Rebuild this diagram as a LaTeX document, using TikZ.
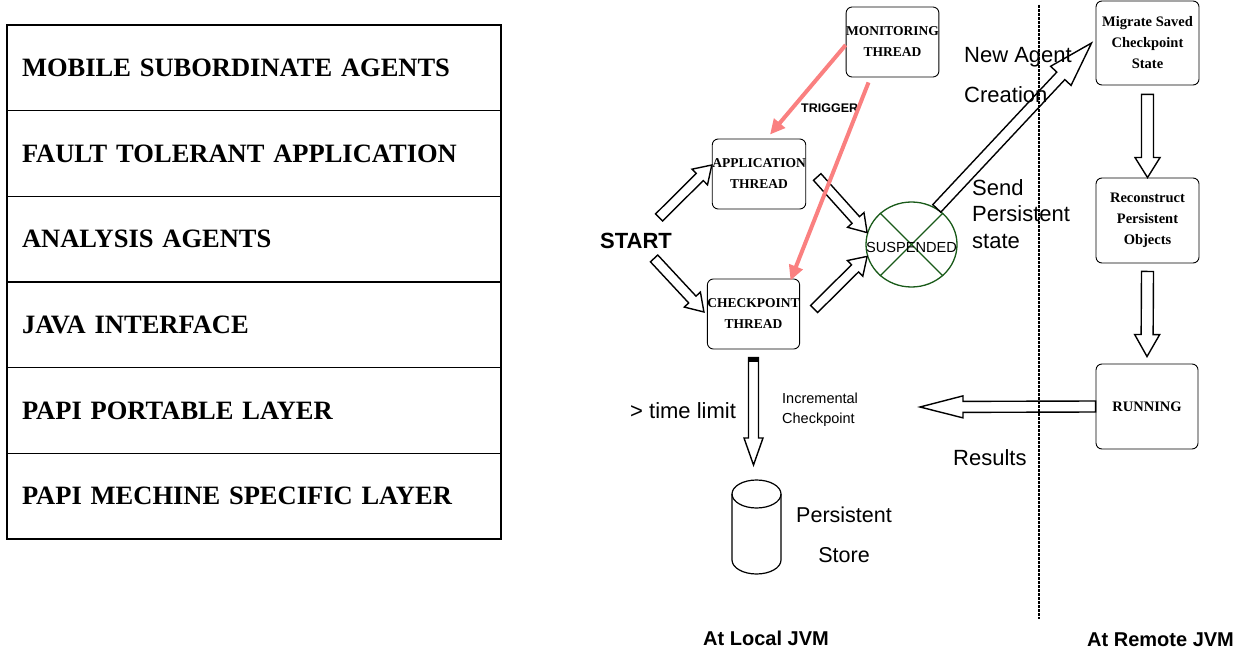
\documentclass[tikz,border=0pt]{standalone}
\usepackage{fontspec}
\setmainfont{Liberation Serif}
\newfontfamily\arial{Liberation Sans}
\usetikzlibrary{arrows.meta,calc,positioning,shapes.geometric}

\definecolor{triggerpink}{RGB}{250,128,128}
\definecolor{suspgreen}{RGB}{25,90,25}

\tikzset{
  layer/.style={draw, line width=1.3pt, minimum height=85.67pt, inner xsep=15pt, outer sep=0pt,
    text width=464pt, align=left, font=\fontsize{26.5}{30}\selectfont\bfseries},
  thread/.style={draw, rounded corners=6pt, line width=0.9pt, inner sep=0pt, align=center,
    font=\fontsize{13.5}{21}\selectfont\bfseries},
  remote/.style={thread, minimum width=103pt, minimum height=85pt, font=\fontsize{14.5}{21}\selectfont\bfseries},
  lbl/.style={inner sep=0pt, font=\arial\fontsize{22}{26}\selectfont},
  trigger/.style={triggerpink, line width=4pt, -{Triangle[length=15pt,width=14pt]}},
  blockline/.style={draw, line width=1.4pt, fill=white, line join=miter},
}

% hollow block arrow: tail, tip, half shaft, half head, head length
\newcommand{\blockarrow}[5]{%
  \path (#1) coordinate (ba-a) (#2) coordinate (ba-b);
  \path ($(ba-b)!#5!(ba-a)$) coordinate (ba-h);
  \draw[blockline] ($(ba-a)!#3!90:(ba-b)$) -- ($(ba-h)!#3!-90:(ba-a)$) -- ($(ba-h)!#4!-90:(ba-a)$)
    -- (ba-b) -- ($(ba-h)!#4!90:(ba-a)$) -- ($(ba-h)!#3!90:(ba-a)$) -- ($(ba-a)!#3!-90:(ba-b)$) -- cycle;
}

\begin{document}
\begin{tikzpicture}[x=1pt,y=1pt]
  \useasboundingbox (0,0) rectangle (1238,-652);

  % layers
  \node[layer, anchor=north west] (msa) at (7,-25) {MOBILE SUBORDINATE AGENTS};
  \node[layer, below=0pt of msa] (fta) {FAULT TOLERANT APPLICATION};
  \node[layer, below=0pt of fta] (ana) {ANALYSIS AGENTS};
  \node[layer, below=0pt of ana] (jif) {JAVA INTERFACE};
  \node[layer, below=0pt of jif] (ppl) {PAPI PORTABLE LAYER};
  \node[layer, below=0pt of ppl] (pms) {PAPI MECHINE SPECIFIC LAYER};

  % local JVM
  \node[thread, minimum width=91pt, minimum height=70pt] (mon) at (892.5,-42) {MONITORING\\THREAD};
  \node[thread, minimum width=90pt, minimum height=70pt] (app) at (759,-174) {APPLICATION\\THREAD};
  \node[thread, minimum width=91pt, minimum height=70pt] (chk) at (753.5,-314) {CHECKPOINT\\THREAD};
  \node[ellipse, draw=suspgreen, line width=1.3pt, minimum width=91pt, minimum height=85pt, inner sep=0pt] (susp) at (911.5,-244.5) {};
  \draw[suspgreen, line width=1.3pt] (susp.135) -- (susp.-45) (susp.45) -- (susp.-135);
  \node[lbl, font=\arial\fontsize{14.6}{17}\selectfont] (susptext) at (911.5,-247) {SUSPENDED};

  \node[lbl, font=\arial\bfseries\fontsize{22}{26}\selectfont, anchor=base west] (start) at (600,-248) {START};
  \node[lbl, font=\arial\bfseries\fontsize{12.5}{15}\selectfont, anchor=base west] (trig) at (801,-113) {TRIGGER};
  \node[lbl, anchor=base west] (timelimit) at (630,-418) {> time limit};
  \node[lbl, font=\arial\fontsize{14.5}{20}\selectfont, anchor=base west, align=left] (incr) at (782,-423) {Incremental\\Checkpoint};
  \node[lbl, anchor=base west] (results) at (953,-465) {Results};
  \node[lbl, font=\arial\fontsize{21.5}{40}\selectfont, anchor=base, align=center] (storelbl) at (844,-562) {Persistent\\Store};

  % persistent store
  \draw[line width=1.2pt] (732,-494) -- (732,-560) arc[start angle=180, end angle=360, x radius=24.5, y radius=14] -- (781,-494);
  \draw[line width=1.2pt] (756.5,-494) ellipse [x radius=24.5, y radius=14];
  \coordinate (store) at (756.5,-480);

  % remote JVM
  \node[remote, minimum height=84pt] (mig) at (1147.5,-43) {Migrate Saved\\Checkpoint\\State};
  \node[remote] (rec) at (1147.5,-220.5) {Reconstruct\\Persistent\\Objects};
  \node[remote, minimum width=102pt] (run) at (1147,-406.5) {RUNNING};
  \coordinate (resultsend) at (920,-407);

  \node[lbl, font=\arial\bfseries\fontsize{20}{24}\selectfont, anchor=base west] (localjvm) at (703,-645) {At Local JVM};
  \node[lbl, font=\arial\bfseries\fontsize{20}{24}\selectfont, anchor=base west] (remotejvm) at (1087,-646) {At Remote JVM};

  % block arrows
  \blockarrow{[shift={(-13,15)}]start.north east}{[yshift=9]app.west}{5pt}{11pt}{17pt}
  \blockarrow{[shift={(-18,-10)}]start.south east}{[shift={(-3,2)}]chk.west}{5pt}{11pt}{17pt}
  \blockarrow{[shift={(11,-3)}]app.east}{susp.165}{5pt}{11pt}{17pt}
  \blockarrow{[shift={(14,5)}]chk.east}{susp.195}{5pt}{11pt}{17pt}
  \blockarrow{susp.55}{[xshift=-4]mig.west}{5.5pt}{14pt}{45pt}
  \blockarrow{[yshift=-8]chk.south}{[shift={(-3,15)}]store}{5pt}{9.5pt}{27pt}
  \fill ($(chk.south)+(-5,-8)$) rectangle ($(chk.south)+(5,-13)$);
  \blockarrow{[yshift=-9]mig.south}{rec.north}{6pt}{12.5pt}{20pt}
  \blockarrow{[yshift=-8]rec.south}{[yshift=7]run.north}{6pt}{12.5pt}{22pt}
  \blockarrow{run.west}{resultsend}{5.5pt}{11pt}{43pt}

  % labels over the migration arrow
  \node[lbl, font=\arial\fontsize{22}{40}\selectfont, anchor=base west, align=left] (newagent) at (964,-103) {New Agent\\Creation};
  \node[lbl, font=\arial\fontsize{22}{26.5}\selectfont, anchor=base west, align=left] (send) at (972,-248) {Send\\Persistent\\state};

  % trigger arrows
  \draw[trigger] ([yshift=-3]mon.west) -- ([shift={(11,4)}]app.north);
  \draw[trigger] ([shift={(-24,-5)}]mon.south) -- ([shift={(37,-2)}]chk.north);

  % JVM border
  \coordinate (divtop) at (1039,-5);
  \coordinate (divbot) at (1039,-619);
  \draw[line width=2.4pt, dash pattern=on 3pt off 1pt] (divtop) -- (divbot);
\end{tikzpicture}
\end{document}
